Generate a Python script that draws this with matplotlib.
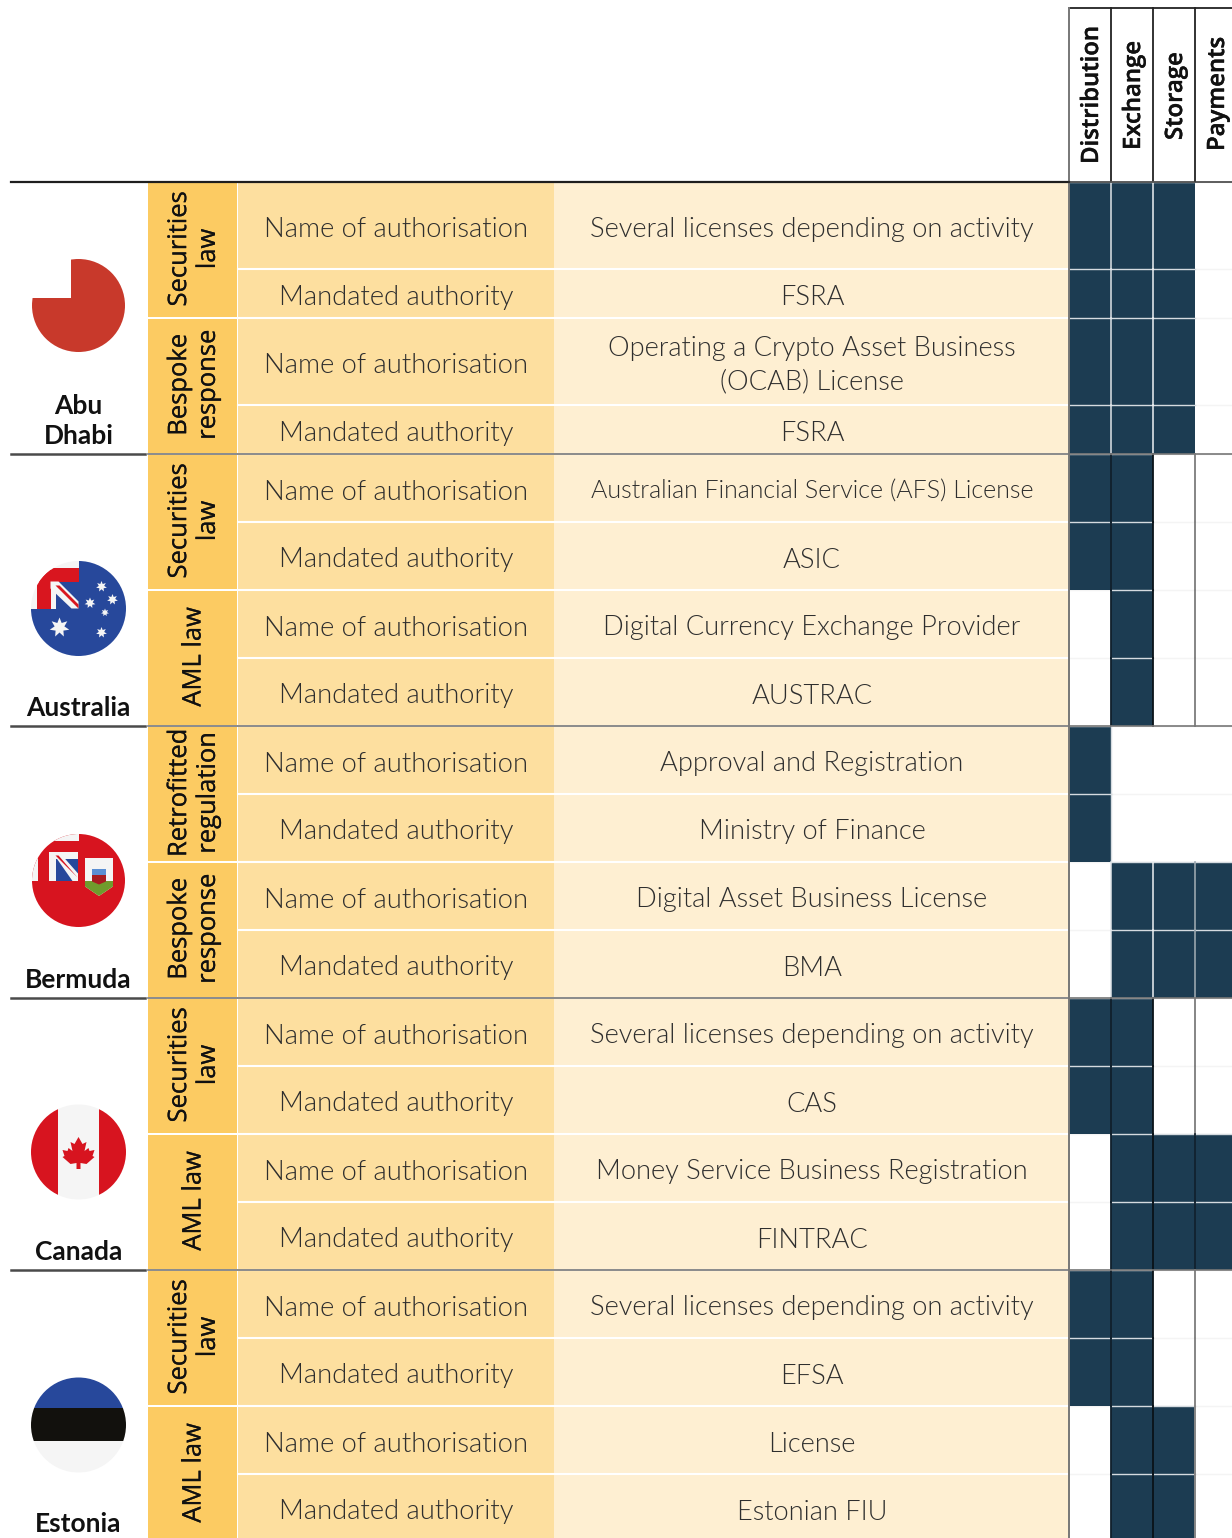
import math
import matplotlib
matplotlib.use('Agg')
import matplotlib.pyplot as plt
import matplotlib.patheffects as pe
from matplotlib import font_manager
from matplotlib.patches import Rectangle, Circle, Polygon

# one row per table line: type of cell text, value, and the 4 activity flags
row_labels = ['Name of authorisation', 'Mandated authority'] * 10
row_values = ['Several licenses depending on activity', 'FSRA',
              'Operating a Crypto Asset Business\n(OCAB) License', 'FSRA',
              'Australian Financial Service (AFS) License', 'ASIC',
              'Digital Currency Exchange Provider', 'AUSTRAC',
              'Approval and Registration', 'Ministry of Finance',
              'Digital Asset Business License', 'BMA',
              'Several licenses depending on activity', 'CAS',
              'Money Service Business Registration', 'FINTRAC',
              'Several licenses depending on activity', 'EFSA',
              'License', 'Estonian FIU']
activities = ['Distribution', 'Exchange', 'Storage', 'Payments']
coverage = [[1, 1, 1, 0], [1, 1, 1, 0], [1, 1, 1, 0], [1, 1, 1, 0],
            [1, 1, 0, 0], [1, 1, 0, 0], [0, 1, 0, 0], [0, 1, 0, 0],
            [1, 0, 0, 0], [1, 0, 0, 0], [0, 1, 1, 1], [0, 1, 1, 1],
            [1, 1, 0, 0], [1, 1, 0, 0], [0, 1, 1, 1], [0, 1, 1, 1],
            [1, 1, 0, 0], [1, 1, 0, 0], [0, 1, 1, 0], [0, 1, 1, 0]]
groups = ['Securities\nlaw', 'Bespoke\nresponse', 'Securities\nlaw', 'AML law',
          'Retrofitted\nregulation', 'Bespoke\nresponse', 'Securities\nlaw', 'AML law',
          'Securities\nlaw', 'AML law']
countries = ['Abu\nDhabi', 'Australia', 'Bermuda', 'Canada', 'Estonia']

# layout in pixels
W, H = 1232, 1538
row_y = [182, 269, 318, 405, 454, 522, 590, 658, 726, 794, 862, 930, 998,
         1066, 1134, 1202, 1270, 1338, 1406, 1474, 1542]
col_x = [1069, 1111, 1153, 1195, 1237]
AMBER = '#fccb62'
MID = '#fddf9f'
PALE = '#feefd2'
NAVY = '#1c3c52'
TXT = '#2e2e2e'

# Lato Light by file, the family lookup picks a much thinner cut
light_files = [f for f in font_manager.findSystemFonts() if f.endswith('Lato-Light.ttf')]
if light_files:
    cell_font = dict(fontproperties=font_manager.FontProperties(fname=light_files[0]))
else:
    cell_font = dict(family='Lato')

fig = plt.figure(figsize=(W / 100, H / 100), dpi=100)
ax = fig.add_axes([0, 0, 1, 1])
ax.set_xlim(0, W)
ax.set_ylim(H, 0)
ax.axis('off')


def cell_text(x, y, s, size):
    t = ax.text(x, y, s, ha='center', va='center', color=TXT, linespacing=1.42, **cell_font)
    t.set_fontsize(size)
    return t


for i in range(20):
    y0, y1 = row_y[i], row_y[i + 1]
    yc = (y0 + y1) / 2
    ax.add_patch(Rectangle((238, y0), 316, y1 - y0, fc=MID, ec='none'))
    ax.add_patch(Rectangle((554, y0), 515, y1 - y0, fc=PALE, ec='none'))
    cell_text(396, yc + 4, row_labels[i], 19.7)
    cell_text(812, yc + (4 if i == 2 else 4), row_values[i], 18.0 if i == 4 else 19.6)
    ax.plot([238, 1069], [y0, y0], color='white', lw=1.5, zorder=2)
    ax.plot([1069, W], [y0, y0], color='#f4f4f4', lw=1, zorder=2)
    for j in range(4):
        if coverage[i][j]:
            ax.add_patch(Rectangle((col_x[j], y0), col_x[j + 1] - col_x[j], y1 - y0,
                                   fc=NAVY, ec='none', zorder=3))
            ax.plot([col_x[j], col_x[j + 1]], [y0, y0], color='#d5dbe0', lw=1, zorder=3.5)

# activity columns: separators differ from block to block
dark_rows = [4, 5, 6, 7, 12, 13, 14, 15, 16, 17, 18, 19]
grey_rows = [4, 5, 6, 7, 12, 13, 16, 17, 18, 19]
for i in range(20):
    y0, y1 = row_y[i], row_y[i + 1]
    if i in dark_rows:
        ax.plot([col_x[1]] * 2, [y0, y1], color='#10202c', lw=1.3, zorder=3.6)
        ax.plot([col_x[2]] * 2, [y0, y1], color='#0a1218', lw=1.3, zorder=3.6)
    elif i not in (8, 9):
        ax.plot([col_x[1]] * 2, [y0, y1], color='#dfe4e8', lw=1.1, zorder=3.6)
        ax.plot([col_x[2]] * 2, [y0, y1], color='#eef1f3', lw=1.1, zorder=3.6)
    else:
        ax.plot([col_x[1]] * 2, [y0, y1], color='#d5dbe0', lw=1, zorder=3.6)
    if i in grey_rows:
        ax.plot([col_x[3]] * 2, [y0, y1], color='#858585', lw=1.4, zorder=3.6)
    elif i in (14, 15):
        ax.plot([col_x[3]] * 2, [y0, y1], color='#10202c', lw=1.2, zorder=3.6)
    elif i in (10, 11):
        ax.plot([col_x[3]] * 2, [y0, y1], color='#9aa6ae', lw=1.2, zorder=3.6)
ax.plot([1069, 1069], [8, H], color='#777777', lw=1.4, zorder=4)
ax.plot([1069, W], [8, 8], color='#222222', lw=1.3)
for j in range(4):
    if j:
        ax.plot([col_x[j]] * 2, [8, 182], color='#222222', lw=1.3)
    ax.text((col_x[j] + col_x[j + 1]) / 2 + 2, 164 - [0, 14, 24, 13][j], activities[j], rotation=90,
            ha='center', va='bottom', family='Open Sans', weight=600, fontsize=17.2, color='#111111',
            path_effects=[pe.withStroke(linewidth=0.3, foreground='#111111')])

# group column, two rows per group
for g in range(10):
    y0, y1 = row_y[g * 2], row_y[g * 2 + 2]
    ax.add_patch(Rectangle((148, y0 + 1), 89, y1 - y0 - 2, fc=AMBER, ec='none'))
    ax.text(194, (y0 + y1) / 2 - 1, groups[g], rotation=90, ha='center', va='center', ma='center',
            family='Open Sans', fontsize=18.4, color='#111111', linespacing=1.2,
            path_effects=[pe.withStroke(linewidth=0.15, foreground='#111111')])

# country separators, name labels
for c in range(5):
    y0, y1 = row_y[c * 4], row_y[c * 4 + 4]
    ax.text(78.5, y1 - 5.5, countries[c], ha='center', va='bottom', family='Lato', weight='bold',
            fontsize=19, color='#111111', linespacing=1.3)
    if c == 0:
        ax.plot([11, 1069], [y0, y0], color='#1e1e1e', lw=1.6, zorder=5)
        ax.plot([1069, W], [y0, y0], color='#333333', lw=1.1, zorder=5)
    if c < 4:
        ax.plot([11, 145], [y1, y1], color='#4a4a4a', lw=1.8, zorder=5)
        ax.plot([148, W], [y1, y1], color='#777777', lw=1.2, zorder=5)


def flag_part(artist, cx, cy, r=47.5):
    ax.add_artist(artist)
    artist.set_clip_path(Circle((cx, cy), r, transform=ax.transData))


def ell(cx, cy, nx, ny):
    # square minus its top left corner, down to the notch at (nx, ny)
    return [(cx + nx, cy - 50), (cx + 50, cy - 50), (cx + 50, cy + 50), (cx - 50, cy + 50),
            (cx - 50, cy + ny), (cx + nx, cy + ny)]


def star(cx, cy, r, n=7):
    pts = []
    for k in range(n * 2):
        a = math.pi * k / n - math.pi / 2
        rr = r if k % 2 == 0 else r * 0.5
        pts.append((cx + rr * math.cos(a), cy + rr * math.sin(a)))
    return Polygon(pts, fc='#f5f5f5', ec='none')


# Abu Dhabi
cx, cy = 78.5, 305.5
flag_part(Polygon(ell(cx, cy, -7.8, -8), fc='#c8392b', ec='none'), cx, cy, 46.5)

# Australia
cx, cy = 78.5, 608.5
flag_part(Polygon(ell(cx, cy, 0, 0), fc='#27489b', ec='none'), cx, cy)
flag_part(Rectangle((cx - 50, cy - 50), 50, 50, fc='#f5f5f5', ec='none'), cx, cy)
flag_part(Rectangle((cx - 42, cy - 50), 14, 50, fc='#d9161f', ec='none'), cx, cy)
flag_part(Rectangle((cx - 50, cy - 41), 50, 14, fc='#d9161f', ec='none'), cx, cy)
flag_part(Rectangle((cx - 28, cy - 27), 28, 27, fc='#27489b', ec='none'), cx, cy)
flag_part(Rectangle((cx - 28, cy - 27), 5, 27, fc='#f5f5f5', ec='none'), cx, cy)
flag_part(Polygon([(cx - 28, cy - 27), (cx - 20, cy - 27), (cx, cy - 7), (cx, cy), (cx - 7, cy), (cx - 28, cy - 20)],
                  fc='#f5f5f5', ec='none'), cx, cy)
flag_part(Polygon([(cx - 23, cy - 23), (cx - 19, cy - 23), (cx, cy - 4), (cx, cy)],
                  fc='#d9161f', ec='none'), cx, cy)
for sx, sy, sr in [(-19, 19, 10), (23, -22, 5.5), (11.5, -5.5, 5.5), (34, -9, 5.5), (26.5, 4, 4), (23, 24, 5.5)]:
    flag_part(star(cx + sx, cy + sy, sr), cx, cy)

# Bermuda
cx, cy = 78.5, 880.5
flag_part(Polygon(ell(cx, cy, 0, 0), fc='#d7141f', ec='none'), cx, cy, 46.5)
flag_part(Rectangle((cx - 50, cy - 50), 50, 50, fc='#d7141f', ec='none'), cx, cy, 46.5)
flag_part(Rectangle((cx - 50, cy - 50), 50, 10, fc='#f5f5f5', ec='none'), cx, cy, 46.5)
flag_part(Rectangle((cx - 50, cy - 40), 9, 40, fc='#f5f5f5', ec='none'), cx, cy, 46.5)
flag_part(Rectangle((cx - 29.5, cy - 28.5), 29, 29, fc='#f5f5f5', ec='none'), cx, cy)
flag_part(Rectangle((cx - 23, cy - 22), 22.5, 22.5, fc='#27489b', ec='none'), cx, cy)
flag_part(Polygon([(cx - 26, cy - 28), (cx - 19, cy - 28), (cx - 0.5, cy - 7), (cx - 0.5, cy + 0.5), (cx - 6, cy + 0.5)],
                  fc='#f5f5f5', ec='none'), cx, cy)
flag_part(Polygon([(cx - 23, cy - 25), (cx - 20, cy - 25), (cx - 1, cy - 3)], fc='#d7141f', ec='none'), cx, cy)
flag_part(Polygon([(cx + 6.5, cy - 22.5), (cx + 34.5, cy - 22.5), (cx + 34.5, cy + 6), (cx + 20.5, cy + 15.5), (cx + 6.5, cy + 6)],
                  fc='#f5f5f5', ec='none'), cx, cy)
flag_part(Polygon([(cx + 6.5, cy + 0.5), (cx + 34.5, cy + 0.5), (cx + 34.5, cy + 6), (cx + 20.5, cy + 15.5), (cx + 6.5, cy + 6)],
                  fc='#6f9c2d', ec='none'), cx, cy)
flag_part(Rectangle((cx + 13.5, cy - 11.5), 14, 6, fc='#5b8fd3', ec='none'), cx, cy)
flag_part(Polygon([(cx + 13.5, cy - 5.5), (cx + 27.5, cy - 5.5), (cx + 27.5, cy + 1), (cx + 20.5, cy + 4), (cx + 13.5, cy + 1)],
                  fc='#a81c20', ec='none'), cx, cy)

# Canada
cx, cy = 78.5, 1152
flag_part(Rectangle((cx - 21, cy - 50), 41.5, 100, fc='#f5f5f5', ec='none'), cx, cy)
flag_part(Rectangle((cx - 50, cy - 50), 29, 100, fc='#d7141f', ec='none'), cx, cy)
flag_part(Rectangle((cx + 20.5, cy - 50), 30, 100, fc='#d7141f', ec='none'), cx, cy)
flag_part(Polygon([(cx, cy - 15), (cx + 4, cy - 8), (cx + 8, cy - 10), (cx + 6, cy - 1), (cx + 10, cy - 4), (cx + 11, cy - 1),
                   (cx + 16, cy - 2), (cx + 14, cy + 4), (cx + 16, cy + 5), (cx + 8, cy + 12), (cx + 2, cy + 11), (cx + 2, cy + 17),
                   (cx - 2, cy + 17), (cx - 2, cy + 11), (cx - 8, cy + 12), (cx - 16, cy + 5), (cx - 14, cy + 4), (cx - 16, cy - 2),
                   (cx - 11, cy - 1), (cx - 10, cy - 4), (cx - 6, cy - 1), (cx - 8, cy - 10), (cx - 4, cy - 8)],
                  fc='#d7141f', ec='none'), cx, cy)

# Estonia
cx, cy = 78.5, 1425
flag_part(Rectangle((cx - 50, cy - 50), 100, 33, fc='#27489b', ec='none'), cx, cy)
flag_part(Rectangle((cx - 50, cy - 17), 100, 33, fc='#12110d', ec='none'), cx, cy)
flag_part(Rectangle((cx - 50, cy + 16), 100, 34, fc='#f5f5f5', ec='none'), cx, cy)

fig.savefig('out.png', dpi=100)
